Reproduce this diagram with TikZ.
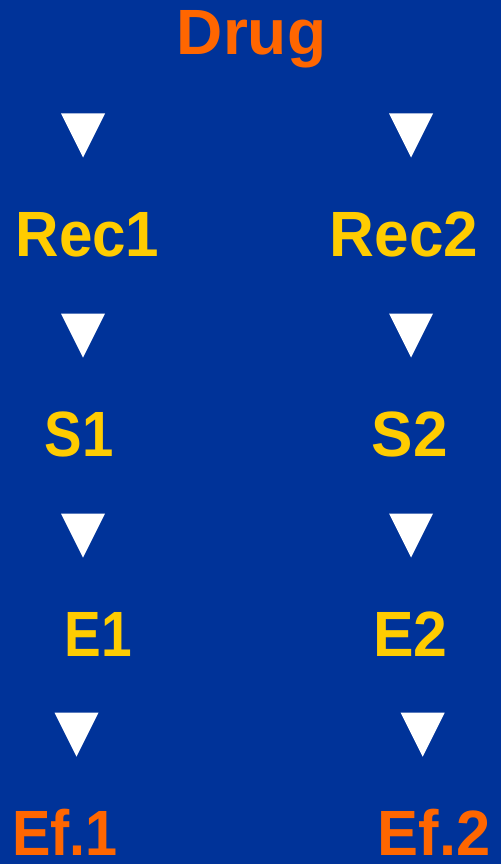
\documentclass[tikz,border=0pt]{standalone}
\usepackage{fontspec}
\setmainfont{Liberation Sans}
\definecolor{bgblue}{HTML}{003399}
\definecolor{orng}{HTML}{FF6600}
\definecolor{yell}{HTML}{FFCC00}
\begin{document}
\begin{tikzpicture}[x=1pt,y=-1pt,
  lbl/.style={inner sep=0pt,anchor=base,transform shape,font=\fontsize{64}{64}\selectfont\bfseries},
  endlbl/.style={lbl,text=orng},
  midlbl/.style={lbl,text=yell},
  tri/.style={fill=white}]
\fill[bgblue] (0,0) rectangle (501,864);
\useasboundingbox (0,0) rectangle (501,864);
\node[endlbl] (drug) at (251.5,55) {Drug};
\node[midlbl,xscale=0.94] (rec1) at (87.5,256.7) {Rec1};
\node[midlbl,xscale=0.97] (rec2) at (404.2,256.7) {Rec2};
\node[midlbl,xscale=0.88] (s1) at (79.2,456.7) {S1};
\node[midlbl,xscale=0.97] (s2) at (409.7,456.7) {S2};
\node[midlbl,xscale=0.86] (e1) at (98.3,656) {E1};
\node[midlbl,xscale=0.95] (e2) at (410.3,656) {E2};
\node[endlbl,xscale=0.9] (ef1) at (65,855.7) {Ef.1};
\node[endlbl,xscale=0.96] (ef2) at (434,855.7) {Ef.2};
% down triangles: center x, top y
\foreach \cx/\ty in {83/113.5, 411/113.5, 83/313.5, 411/313.5, 83/513.5, 411/513.5, 76.5/712.7, 422.7/712.7}{
  \fill[tri] (\cx-22,\ty) -- (\cx+22,\ty) -- (\cx,\ty+44) -- cycle;
}
\end{tikzpicture}
\end{document}
